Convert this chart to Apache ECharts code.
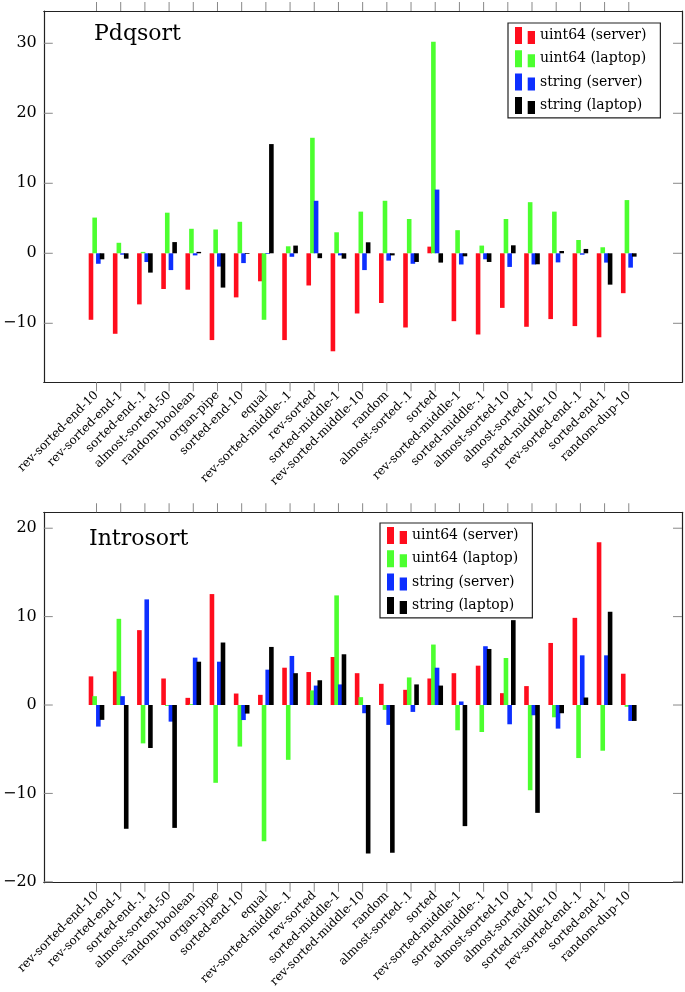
<!DOCTYPE html>
<html><head><meta charset="utf-8">
<script src="https://cdn.jsdelivr.net/npm/echarts@6/dist/echarts.min.js"></script>
<style>html,body{margin:0;padding:0;background:#fff}#c{width:685px;height:992px}</style>
</head><body><div id="c"></div>
<script>
const categories = ['rev-sorted-end-10','rev-sorted-end-1','sorted-end-.1','almost-sorted-50','random-boolean','organ-pipe','sorted-end-10','equal','rev-sorted-middle-.1','rev-sorted','sorted-middle-1','rev-sorted-middle-10','random','almost-sorted-.1','sorted','rev-sorted-middle-1','sorted-middle-.1','almost-sorted-10','almost-sorted-1','sorted-middle-10','rev-sorted-end-.1','sorted-end-1','random-dup-10'];
const seriesNames = ['uint64 (server)','uint64 (laptop)','string (server)','string (laptop)'];
const panelTitles = ['Pdqsort','Introsort'];
const pdqTicks = [-10, 0, 10, 20, 30];
const introTicks = [-20, -10, 0, 10, 20];

const pdqUint64Server = [-9.5,-11.5,-7.3,-5.1,-5.2,-12.4,-6.3,-4.0,-12.4,-4.6,-14.0,-8.6,-7.1,-10.6,0.95,-9.7,-11.6,-7.8,-10.5,-9.4,-10.4,-12.0,-5.7];
const pdqUint64Laptop = [5.1,1.5,0.2,5.8,3.5,3.4,4.5,-9.5,1.0,16.5,3.0,5.95,7.5,4.9,30.2,3.3,1.1,4.9,7.3,5.95,1.9,0.86,7.6];
const pdqStringServer = [-1.5,-0.2,-1.25,-2.4,-0.3,-1.9,-1.4,-0.1,-0.5,7.5,-0.3,-2.4,-1.05,-1.5,9.1,-1.6,-0.86,-1.95,-1.6,-1.3,-0.2,-1.33,-2.05];
const pdqStringLaptop = [-0.86,-0.77,-2.76,1.6,0.2,-4.9,-0.1,15.6,1.1,-0.7,-0.77,1.57,-0.3,-1.24,-1.33,-0.43,-1.24,1.14,-1.57,0.33,0.62,-4.48,-0.48];

const introUint64Server = [3.24,3.8,8.47,3.0,0.81,12.55,1.3,1.15,4.22,3.73,5.43,3.6,2.4,1.72,3.0,3.6,4.45,1.34,2.14,7.02,9.86,18.4,3.54];
const introUint64Laptop = [1.0,9.75,-4.34,-0.1,0.1,-8.8,-4.7,-15.4,-6.2,1.65,12.4,0.89,-0.55,3.12,6.84,-2.86,-3.05,5.32,-9.64,-1.39,-6.0,-5.17,-0.2];
const introStringServer = [-2.44,1.0,11.95,-1.88,5.36,4.9,-1.7,4.0,5.55,2.2,2.33,-0.93,-2.25,-0.78,4.22,0.4,6.65,-2.18,-1.16,-2.67,5.62,5.62,-1.8];
const introStringLaptop = [-1.68,-14.0,-4.86,-13.9,4.9,7.07,-0.97,6.57,3.6,2.8,5.74,-16.8,-16.7,2.33,2.2,-13.7,6.34,9.6,-12.2,-0.93,0.85,10.55,-1.8];

const pdqRange = [-18.43, 34.61];
const introRange = [-20.1, 21.8];
const xRange = [-2.18, 24.2];

const colors = ['#ff0d1d','#4cff2f','#0d2fff','#000000'];
const FONT = 'DejaVu Serif';

const panels = [
  {top: 11, height: 371.3, range: pdqRange, ticks: pdqTicks, data: [pdqUint64Server,pdqUint64Laptop,pdqStringServer,pdqStringLaptop], title: panelTitles[0], titlePos: {left: 94, top: 23}, legendPos: {left: 508, top: 23}},
  {top: 512.3, height: 370.4, range: introRange, ticks: introTicks, data: [introUint64Server,introUint64Laptop,introStringServer,introStringLaptop], title: panelTitles[1], titlePos: {left: 89, top: 528}, legendPos: {left: 380, top: 523}}
];

const catIdx = categories.map((c, i) => i);
const grid = [], xAxis = [], yAxis = [], series = [], title = [], legend = [];
const frameColor = '#222';
const tickColor = '#888';
const TICK = 9;
const minus = s => String(s).replace('-', '\u2212');

function tickSeries(name, xi, yi, data, size, offset) {
  return {type: 'scatter', name, xAxisIndex: xi, yAxisIndex: yi, data, symbol: 'rect', symbolSize: size, symbolOffset: offset,
    itemStyle: {color: tickColor, opacity: 1}, silent: true, clip: false, z: 3, animation: false, emphasis: {disabled: true}};
}

panels.forEach((p, k) => {
  grid.push({left: 40, right: 3, top: p.top, height: p.height});
  const xb = xAxis.length;
  xAxis.push({type: 'value', gridIndex: k, position: 'bottom', min: xRange[0], max: xRange[1],
    axisLine: {show: true, onZero: false, lineStyle: {color: frameColor, width: 1.2}},
    axisTick: {show: false},
    axisLabel: {show: true, customValues: catIdx, formatter: v => categories[Math.round(v)], rotate: 45, margin: 11, fontFamily: FONT, fontSize: 12, color: '#000'},
    splitLine: {show: false}});
  xAxis.push({type: 'value', gridIndex: k, position: 'top', min: xRange[0], max: xRange[1],
    axisLine: {show: true, onZero: false, lineStyle: {color: frameColor, width: 1.2}},
    axisTick: {show: false}, axisLabel: {show: false}, splitLine: {show: false}});
  const yl = yAxis.length;
  yAxis.push({type: 'value', gridIndex: k, position: 'left', min: p.range[0], max: p.range[1],
    axisLine: {show: true, onZero: false, lineStyle: {color: frameColor, width: 1.2}},
    axisTick: {show: false},
    axisLabel: {show: true, customValues: p.ticks, margin: 7, formatter: v => minus(v), fontFamily: FONT, fontSize: 16, color: '#000'},
    splitLine: {show: false}});
  yAxis.push({type: 'value', gridIndex: k, position: 'right', min: p.range[0], max: p.range[1],
    axisLine: {show: true, onZero: false, lineStyle: {color: frameColor, width: 1.2}},
    axisTick: {show: false}, axisLabel: {show: false}, splitLine: {show: false}});
  p.data.forEach((arr, i) => {
    series.push({type: 'bar', name: seriesNames[i], xAxisIndex: xb, yAxisIndex: yl, data: arr.map((v, j) => [j, v]),
      barWidth: 4.6, barGap: '-20%', itemStyle: {color: colors[i]}, animation: false, z: 2});
  });
  // tick marks placed through the axis scales
  series.push(tickSeries('xtickB' + k, xb, yl, catIdx.map(i => [i, p.range[0]]), [1, TICK], [0, TICK / 2]));
  series.push(tickSeries('xtickT' + k, xb, yl, catIdx.map(i => [i, p.range[1]]), [1, TICK], [0, -TICK / 2]));
  series.push(tickSeries('ytickL' + k, xb, yl, p.ticks.map(v => [xRange[0], v]), [TICK, 1], [TICK / 2, 0]));
  series.push(tickSeries('ytickR' + k, xb, yl, p.ticks.map(v => [xRange[1], v]), [TICK, 1], [-TICK / 2, 0]));
  title.push({text: p.title, left: p.titlePos.left, top: p.titlePos.top, padding: 0,
    textStyle: {fontFamily: FONT, fontSize: 22, fontWeight: 'normal', color: '#000'}});
  legend.push({data: seriesNames, orient: 'vertical', left: p.legendPos.left, top: p.legendPos.top,
    backgroundColor: '#fff', borderColor: '#222', borderWidth: 1.2, borderRadius: 0, padding: [4, 14, 4, 7],
    itemGap: 6.3, itemWidth: 20, itemHeight: 17,
    icon: 'path://M0,0h7v17h-7z M12.7,4h7.3v13h-7.3z',
    textStyle: {fontFamily: FONT, fontSize: 14, color: '#000', padding: [4, 0, 0, 0]},
    selectedMode: false, z: 10});
});

const chart = echarts.init(document.getElementById('c'), null, {renderer: 'canvas'});
chart.setOption({animation: false, backgroundColor: '#fff', grid, xAxis, yAxis, series, title, legend});
</script></body></html>
